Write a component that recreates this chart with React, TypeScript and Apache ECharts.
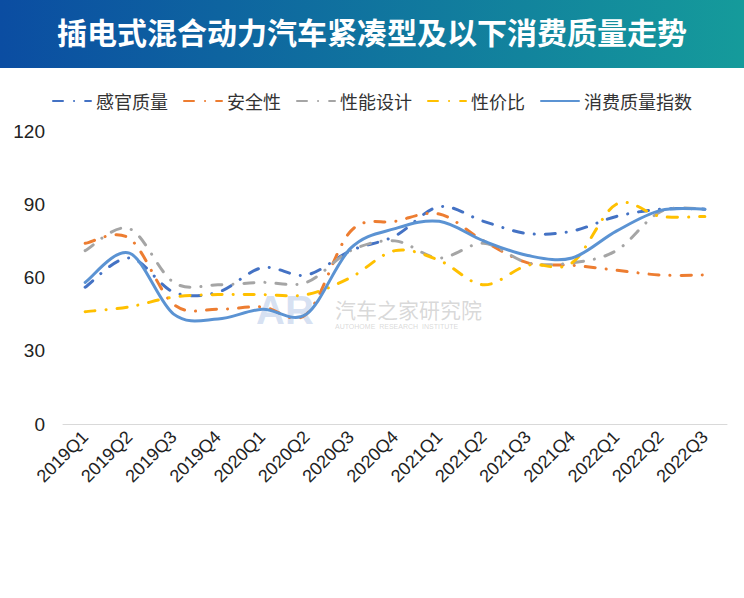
import React, { useEffect, useRef } from "react";
import * as echarts from "echarts";

const categories = [
  "2019Q1", "2019Q2", "2019Q3", "2019Q4", "2020Q1", "2020Q2", "2020Q3", "2020Q4",
  "2021Q1", "2021Q2", "2021Q3", "2021Q4", "2022Q1", "2022Q2", "2022Q3",
];
const sensory = [56, 68, 54, 54, 64, 61, 71, 77, 89, 83, 78, 79, 85, 88, 88];
const safety = [74, 76, 49, 47, 48, 45, 79, 83, 86, 75, 66, 65, 63, 61, 61];
const performance = [71, 80, 58, 57, 58, 58, 71, 75, 68, 74, 66, 66, 71, 87, 88];
const value = [46, 48, 52, 53, 53, 53, 60, 71, 67, 57, 65, 66, 90, 85, 85];
const index = [58, 70, 45, 43, 47, 45, 72, 80, 83, 75, 69, 68, 79, 87.5, 88];
const yTicks = { min: 0, max: 120, interval: 30 };

const names = ["感官质量", "安全性", "性能设计", "性价比", "消费质量指数"];
const colors = ["#4472C4", "#ED7D31", "#A5A5A5", "#FFC000", "#5B93D3"];
const allSeries = [sensory, safety, performance, value, index];

export default function App() {
  const ref = useRef<HTMLDivElement>(null);
  useEffect(() => {
    document.body.style.margin = "0";
    if (!ref.current) return;
    const chart = echarts.init(ref.current, undefined, { renderer: "svg" });
    const dashDot = [10, 11, 0.1, 11];

    // legend-only line series (style carried into legend icons)
    const legendSeries = names.map((n, i) => ({
      name: n,
      type: "line",
      data: [],
      symbol: "none",
      lineStyle: {
        color: colors[i],
        width: 3,
        type: i === 4 ? "solid" : dashDot,
        cap: "round",
      },
      itemStyle: { color: colors[i] },
    }));

    // Excel-like smoothed curves drawn through the axis scales
    const curveSeries = allSeries.map((vals, si) => ({
      type: "custom",
      z: si === 4 ? 5 : 3,
      silent: true,
      data: vals.map((v, i) => [i, v]),
      encode: { x: 0, y: 1 },
      renderItem: (params: any, api: any) => {
        if (params.dataIndex !== 0) return null;
        const pts = vals.map((v, i) => api.coord([i, v]));
        const n = pts.length;
        let d = `M${pts[0][0]},${pts[0][1]}`;
        for (let i = 0; i < n - 1; i++) {
          const p0 = pts[Math.max(i - 1, 0)];
          const p1 = pts[i];
          const p2 = pts[i + 1];
          const p3 = pts[Math.min(i + 2, n - 1)];
          const c1x = p1[0] + (p2[0] - p0[0]) / 6;
          const c1y = p1[1] + (p2[1] - p0[1]) / 6;
          const c2x = p2[0] - (p3[0] - p1[0]) / 6;
          const c2y = p2[1] - (p3[1] - p1[1]) / 6;
          d += ` C${c1x},${c1y} ${c2x},${c2y} ${p2[0]},${p2[1]}`;
        }
        return {
          type: "path",
          shape: { pathData: d },
          style: {
            fill: "none",
            stroke: colors[si],
            lineWidth: 3,
            lineDash: si === 4 ? null : dashDot,
            lineCap: "round",
          },
        };
      },
    }));

    chart.setOption({
      animation: false,
      backgroundColor: "#ffffff",
      graphic: [
        {
          type: "rect",
          left: 0,
          top: 0,
          z: 0,
          shape: { width: 744, height: 68 },
          style: {
            fill: new echarts.graphic.LinearGradient(0, 0, 1, 0, [
              { offset: 0, color: "#0B4DA2" },
              { offset: 1, color: "#159B9B" },
            ]),
          },
        },
        {
          type: "text",
          left: "center",
          top: 16,
          z: 1,
          style: {
            text: "插电式混合动力汽车紧凑型及以下消费质量走势",
            fill: "#ffffff",
            fontSize: 30,
            fontWeight: "bold",
            fontFamily: "Noto Sans CJK SC",
          },
        },
        {
          type: "text",
          left: 256,
          top: 290,
          z: 0,
          style: {
            text: "AR",
            fill: "rgba(140,170,220,0.35)",
            fontSize: 40,
            fontWeight: "bold",
            fontFamily: "Liberation Sans",
          },
        },
        {
          type: "text",
          left: 335,
          top: 298,
          z: 0,
          style: {
            text: "汽车之家研究院",
            fill: "rgba(170,170,170,0.45)",
            fontSize: 21,
            fontFamily: "Noto Sans CJK SC",
          },
        },
        {
          type: "text",
          left: 335,
          top: 323,
          z: 0,
          style: {
            text: "AUTOHOME  RESEARCH  INSTITUTE",
            fill: "rgba(170,170,170,0.45)",
            fontSize: 7,
            fontFamily: "Liberation Sans",
          },
        },
      ],
      legend: {
        top: 87,
        left: "center",
        itemWidth: 38,
        itemHeight: 14,
        itemGap: 15,
        itemStyle: { opacity: 0 },
        textStyle: { fontSize: 18, color: "#333", fontFamily: "Noto Sans CJK SC" },
        data: names,
      },
      grid: { left: 63, right: 17, top: 131, bottom: 174 },
      xAxis: {
        type: "category",
        data: categories,
        boundaryGap: true,
        axisLine: { lineStyle: { color: "#D9D9D9", width: 1 } },
        axisTick: { show: false },
        axisLabel: {
          rotate: 45,
          interval: 0,
          fontSize: 18,
          color: "#222",
          fontFamily: "Liberation Sans",
          margin: 10,
        },
      },
      yAxis: {
        type: "value",
        min: yTicks.min,
        max: yTicks.max,
        interval: yTicks.interval,
        splitLine: { show: false },
        axisLine: { show: false },
        axisTick: { show: false },
        axisLabel: { fontSize: 19, color: "#222", fontFamily: "Liberation Sans", margin: 18 },
      },
      series: [...legendSeries, ...curveSeries],
    });
    return () => chart.dispose();
  }, []);
  return <div ref={ref} style={{ width: 744, height: 598 }} />;
}
